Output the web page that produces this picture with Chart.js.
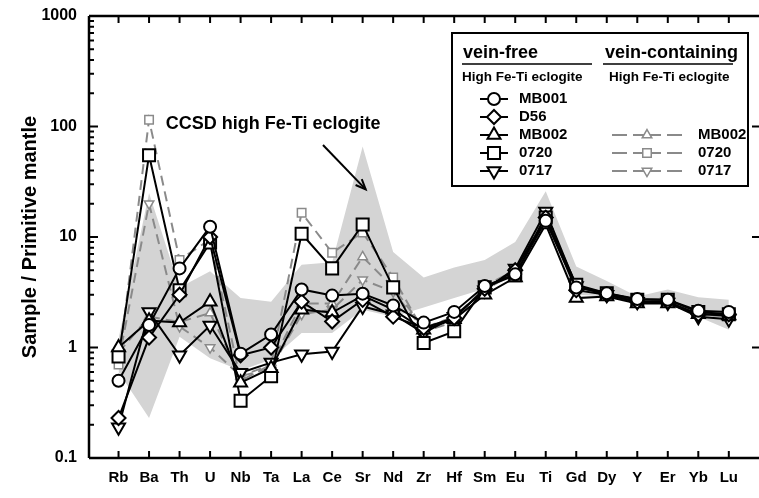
<!DOCTYPE html>
<html>
<head>
<meta charset="utf-8">
<script src="https://cdn.jsdelivr.net/npm/chart.js@4/dist/chart.umd.min.js"></script>
<style>
  body { margin: 0; background: #fff; }
  #wrap { width: 759px; height: 498px; position: relative; }
</style>
</head>
<body>
<div id="wrap"><canvas id="chart"></canvas></div>
<script>
// Elements (x axis)
const labels = ['Rb', 'Ba', 'Th', 'U', 'Nb', 'Ta', 'La', 'Ce', 'Sr', 'Nd', 'Zr', 'Hf', 'Sm', 'Eu', 'Ti', 'Gd', 'Dy', 'Y', 'Er', 'Yb', 'Lu'];
const yTicks = [0.1, 1, 10, 100, 1000];

// vein-free high Fe-Ti eclogite
const mb001 = [0.5, 1.6, 5.2, 12.4, 0.88, 1.31, 3.35, 2.95, 3.07, 2.4, 1.68, 2.1, 3.6, 4.6, 14, 3.5, 3.1, 2.75, 2.7, 2.15, 2.1];
const d56 = [0.23, 1.23, 3.0, 10, 0.85, 1.0, 2.6, 1.72, 2.7, 1.9, 1.5, 1.85, 3.4, 5.0, 15, 3.3, 3.0, 2.6, 2.6, 2.0, 2.0];
const mb002 = [1.0, 1.75, 1.68, 2.6, 0.48, 0.65, 2.2, 2.07, 2.95, 2.2, 1.45, 1.8, 3.0, 4.3, 13, 2.8, 2.9, 2.5, 2.5, 2.0, 1.95];
const s0720 = [0.83, 55, 3.3, 8.9, 0.33, 0.55, 10.7, 5.2, 13, 3.5, 1.1, 1.4, 3.5, 4.5, 15, 3.7, 3.1, 2.7, 2.7, 2.1, 2.0];
const s0717 = [0.19, 2.1, 0.85, 1.58, 0.59, 0.73, 0.87, 0.92, 2.35, 2.0, 1.35, 1.9, 3.3, 5.2, 17, 3.6, 3.0, 2.6, 2.55, 1.9, 1.8];

// vein-containing high Fe-Ti eclogite
const veinMb002 = [0.9, 1.9, 1.7, 2.05, 0.55, 0.7, 2.5, 2.5, 6.6, 3.5, 1.5, 1.9, 3.3, 4.8, 15, 3.4, 3.0, 2.6, 2.6, 2.0, 1.95];
const vein0720 = [0.7, 115, 6.2, 9.5, 0.5, 0.7, 16.6, 7.2, 11, 4.3, 1.4, 1.7, 3.6, 5.0, 16, 3.6, 3.1, 2.7, 2.7, 2.1, 2.0];
const vein0717 = [0.75, 20, 1.55, 1.0, 0.55, 0.65, 2.0, 2.2, 4.1, 3.2, 1.45, 1.9, 3.4, 5.0, 16, 3.5, 3.0, 2.6, 2.6, 2.0, 1.9];

// CCSD high Fe-Ti eclogite field
const ccsdHigh = [1.2, 25, 3.5, 4.9, 2.8, 2.6, 5.6, 5.9, 66, 7.3, 4.3, 5.3, 6.2, 9, 26, 5.4, 4.0, 2.9, 3.35, 2.85, 2.7];
const ccsdLow = [0.6, 0.23, 1.25, 0.8, 0.62, 0.78, 1.35, 1.35, 2.2, 1.9, 2.3, 2.8, 3.4, 5.0, 13, 3.0, 2.9, 2.5, 2.5, 1.9, 1.45];

const FONT = '"Liberation Sans", Arial, sans-serif';
const GREY = '#8a8a8a';

function pts(arr) {
    return arr.map((v, i) => ({ x: i, y: v }));
}

function solid(label, data, style, radius, rotation) {
    return {
        label, data: pts(data), borderColor: '#000', borderWidth: 2,
        pointStyle: style, pointRadius: radius, pointRotation: rotation || 0,
        pointBackgroundColor: '#fff', pointBorderColor: '#000', pointBorderWidth: 2,
        fill: false, tension: 0, order: 1
    };
}

function dashed(label, data, style, radius, rotation) {
    return {
        label, data: pts(data), borderColor: GREY, borderWidth: 2, borderDash: [10, 6],
        pointStyle: style, pointRadius: radius, pointRotation: rotation || 0,
        pointBackgroundColor: '#fff', pointBorderColor: GREY, pointBorderWidth: 1.5,
        fill: false, tension: 0, order: 5
    };
}

// small marker painter for the legend box
function marker(ctx, style, x, y, r, rot, color, lw) {
    ctx.save();
    ctx.translate(x, y);
    ctx.rotate((rot || 0) * Math.PI / 180);
    ctx.beginPath();
    if (style === 'circle') {
        ctx.arc(0, 0, r, 0, Math.PI * 2);
    } else if (style === 'rect') {
        const s = r * Math.SQRT1_2;
        ctx.rect(-s, -s, 2 * s, 2 * s);
    } else if (style === 'rectRot') {
        ctx.moveTo(0, -r); ctx.lineTo(r, 0); ctx.lineTo(0, r); ctx.lineTo(-r, 0); ctx.closePath();
    } else if (style === 'triangle') {
        ctx.moveTo(0, -r);
        ctx.lineTo(r * Math.cos(Math.PI / 6), r / 2);
        ctx.lineTo(-r * Math.cos(Math.PI / 6), r / 2);
        ctx.closePath();
    }
    ctx.fillStyle = '#fff';
    ctx.fill();
    ctx.lineWidth = lw;
    ctx.strokeStyle = color;
    ctx.stroke();
    ctx.restore();
}

const framePlugin = {
    id: 'frame',
    afterDraw(chart) {
        const ctx = chart.ctx;
        const a = chart.chartArea;
        const xs = chart.scales.x;
        const ys = chart.scales.y;
        ctx.save();
        ctx.strokeStyle = '#000';
        ctx.lineWidth = 2.5;
        ctx.beginPath();
        ctx.moveTo(a.left, a.top); ctx.lineTo(a.left, a.bottom);
        ctx.moveTo(a.left, a.top); ctx.lineTo(chart.width, a.top);
        ctx.moveTo(a.left, a.bottom); ctx.lineTo(chart.width, a.bottom);
        ctx.stroke();

        // inward ticks
        ctx.lineWidth = 2;
        ctx.beginPath();
        labels.forEach((_, i) => {
            const x = xs.getPixelForValue(i);
            ctx.moveTo(x, a.top); ctx.lineTo(x, a.top + 7);
            ctx.moveTo(x, a.bottom); ctx.lineTo(x, a.bottom - 7);
        });
        yTicks.forEach((t, k) => {
            const y = ys.getPixelForValue(t);
            ctx.moveTo(a.left, y); ctx.lineTo(a.left + 9, y);
            ctx.moveTo(chart.width, y); ctx.lineTo(chart.width - 7, y);
            if (k < yTicks.length - 1) {
                for (let m = 2; m <= 9; m++) {
                    const ym = ys.getPixelForValue(t * m);
                    ctx.moveTo(a.left, ym); ctx.lineTo(a.left + 5, ym);
                }
            }
        });
        ctx.stroke();

        // annotation
        ctx.fillStyle = '#000';
        ctx.font = 'bold 18px ' + FONT;
        ctx.textBaseline = 'middle';
        ctx.textAlign = 'left';
        ctx.fillText('CCSD high Fe-Ti eclogite', xs.getPixelForValue(1.55), ys.getPixelForValue(105));
        const x0 = xs.getPixelForValue(6.7), y0 = ys.getPixelForValue(68);
        const x1 = xs.getPixelForValue(8.1), y1 = ys.getPixelForValue(27);
        ctx.lineWidth = 2;
        ctx.beginPath();
        ctx.moveTo(x0, y0); ctx.lineTo(x1, y1);
        ctx.stroke();
        const ang = Math.atan2(y1 - y0, x1 - x0);
        ctx.beginPath();
        ctx.moveTo(x1 - 11 * Math.cos(ang - 0.4), y1 - 11 * Math.sin(ang - 0.4));
        ctx.lineTo(x1, y1);
        ctx.lineTo(x1 - 11 * Math.cos(ang + 0.4), y1 - 11 * Math.sin(ang + 0.4));
        ctx.stroke();

        // legend box
        const bx = 452, by = 33, bw = 296, bh = 153;
        ctx.fillStyle = '#fff';
        ctx.fillRect(bx, by, bw, bh);
        ctx.lineWidth = 2;
        ctx.strokeRect(bx, by, bw, bh);
        ctx.fillStyle = '#000';
        ctx.textBaseline = 'alphabetic';
        ctx.font = 'bold 18px ' + FONT;
        ctx.fillText('vein-free', 463, 58);
        ctx.fillText('vein-containing', 605, 58);
        ctx.lineWidth = 1.5;
        ctx.beginPath();
        ctx.moveTo(462, 64); ctx.lineTo(592, 64);
        ctx.moveTo(603, 64); ctx.lineTo(733, 64);
        ctx.stroke();
        ctx.font = 'bold 13.5px ' + FONT;
        ctx.fillText('High Fe-Ti eclogite', 462, 81);
        ctx.fillText('High Fe-Ti eclogite', 609, 81);

        ctx.font = 'bold 15px ' + FONT;
        ctx.textBaseline = 'middle';
        const left = [
            ['MB001', 'circle', 6, 0], ['D56', 'rectRot', 7, 0], ['MB002', 'triangle', 7.5, 0],
            ['0720', 'rect', 8.5, 0], ['0717', 'triangle', 7.5, 180]
        ];
        left.forEach((e, i) => {
            const y = 99 + i * 18;
            ctx.strokeStyle = '#000';
            ctx.lineWidth = 2;
            ctx.beginPath(); ctx.moveTo(480, y); ctx.lineTo(508, y); ctx.stroke();
            marker(ctx, e[1], 494, y, e[2], e[3], '#000', 2);
            ctx.fillStyle = '#000';
            ctx.fillText(e[0], 519, y);
        });
        const right = [['MB002', 'triangle', 5.5, 0], ['0720', 'rect', 6, 0], ['0717', 'triangle', 5.5, 180]];
        right.forEach((e, i) => {
            const y = 135 + i * 18;
            ctx.strokeStyle = GREY;
            ctx.lineWidth = 2;
            ctx.beginPath();
            ctx.moveTo(612, y); ctx.lineTo(627, y);
            ctx.moveTo(633, y); ctx.lineTo(661, y);
            ctx.moveTo(667, y); ctx.lineTo(682, y);
            ctx.stroke();
            marker(ctx, e[1], 647, y, e[2], e[3], GREY, 1.5);
            ctx.fillStyle = '#000';
            ctx.fillText(e[0], 698, y);
        });
        ctx.restore();
    }
};

const ctx = document.getElementById('chart').getContext('2d');
const chart = new Chart(ctx, {
    type: 'line',
    data: {
        datasets: [
            solid('MB001', mb001, 'circle', 6),
            solid('D56', d56, 'rectRot', 7),
            solid('MB002', mb002, 'triangle', 7.5),
            solid('0720', s0720, 'rect', 8.5),
            solid('0717', s0717, 'triangle', 7.5, 180),
            dashed('MB002 vein', veinMb002, 'triangle', 5.5),
            dashed('0720 vein', vein0720, 'rect', 6),
            dashed('0717 vein', vein0717, 'triangle', 5.5, 180),
            {
                label: 'CCSD high', data: pts(ccsdHigh), borderWidth: 0, pointRadius: 0,
                fill: '+1', backgroundColor: '#d4d4d4', borderColor: 'rgba(0,0,0,0)', tension: 0, order: 20
            },
            {
                label: 'CCSD low', data: pts(ccsdLow), borderWidth: 0, pointRadius: 0,
                fill: false, borderColor: 'rgba(0,0,0,0)', tension: 0, order: 20
            }
        ]
    },
    options: {
        responsive: true,
        maintainAspectRatio: false,
        animation: false,
        layout: { padding: { top: 16, left: 0, right: 0, bottom: 0 } },
        plugins: {
            legend: { display: false },
            tooltip: { enabled: false }
        },
        scales: {
            x: {
                type: 'linear',
                min: -0.968,
                max: 20.645,
                grid: { display: false },
                border: { display: false },
                afterBuildTicks: s => { s.ticks = labels.map((_, i) => ({ value: i })); },
                afterFit: s => { s.height = 40; },
                ticks: {
                    autoSkip: false,
                    maxRotation: 0,
                    padding: 3,
                    color: '#000',
                    font: { family: FONT, size: 15, weight: 'bold' },
                    callback: v => labels[v]
                }
            },
            y: {
                type: 'logarithmic',
                min: 0.1,
                max: 1000,
                grid: { display: false },
                border: { display: false },
                afterBuildTicks: s => { s.ticks = yTicks.map(v => ({ value: v })); },
                afterFit: s => { s.width = 89; },
                title: {
                    display: true,
                    text: 'Sample / Primitive mantle',
                    color: '#000',
                    font: { family: FONT, size: 20, weight: 'bold' },
                    padding: { top: 18, bottom: 0 }
                },
                ticks: {
                    padding: 4,
                    color: '#000',
                    font: { family: FONT, size: 16, weight: 'bold' },
                    callback: v => String(v)
                }
            }
        }
    },
    plugins: [framePlugin]
});
</script>
</body>
</html>
